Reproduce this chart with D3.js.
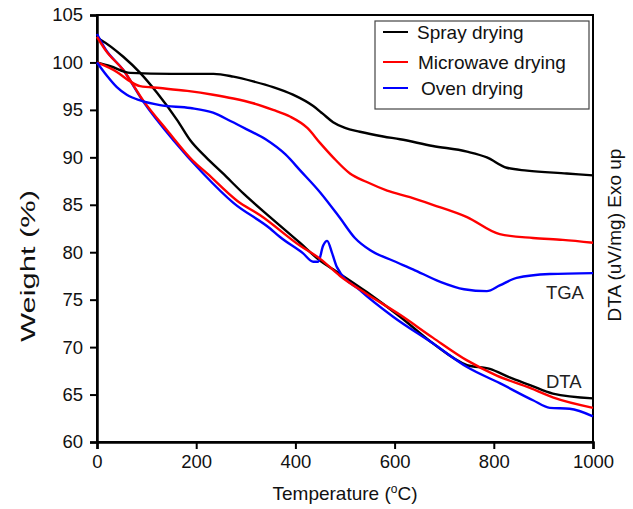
<!DOCTYPE html>
<html>
<head>
<meta charset="utf-8">
<script src="https://cdn.jsdelivr.net/npm/d3@7"></script>
<style>
  body { margin: 0; background: #fff; }
  text { font-family: "Liberation Sans", Arial, sans-serif; }
</style>
</head>
<body>
<script>
// TGA / DTA curves: [temperature, value]
const sprayTGA = [[0,100],[27,99.6],[67,98.9],[150,98.8],[235,98.8],[275,98.5],[315,98.0],[355,97.4],[395,96.6],[436,95.4],[455,94.6],[476,93.7],[500,93.1],[530,92.7],[577,92.2],[611,91.9],[677,91.2],[746,90.6],[786,90.0],[826,88.9],[867,88.6],[947,88.3],[1000,88.1]];
const microwaveTGA = [[0,100],[40,99.0],[67,98.0],[87,97.5],[127,97.3],[182,97.0],[234,96.6],[275,96.2],[315,95.7],[355,95.0],[389,94.3],[424,93.1],[450,91.5],[476,90.0],[510,88.3],[544,87.4],[585,86.5],[631,85.8],[677,85.0],[746,83.7],[812,81.9],[879,81.5],[939,81.3],[1000,81.0]];
const ovenTGA = [[0,100],[20,98.6],[40,97.4],[60,96.6],[87,96.0],[127,95.5],[188,95.2],[234,94.7],[270,93.8],[300,93.0],[340,91.9],[380,90.3],[410,88.6],[450,86.3],[490,83.6],[520,81.5],[551,80.2],[597,79.1],[637,78.2],[691,76.9],[740,76.1],[786,75.9],[812,76.5],[846,77.3],[913,77.7],[1000,77.8]];

const sprayDTA = [[0,102.6],[7,102.4],[53,100.6],[87,98.9],[121,96.8],[162,93.9],[188,91.8],[220,90.0],[254,88.3],[295,86.2],[349,83.7],[409,81.0],[450,79.1],[476,78.2],[544,75.8],[611,73.2],[677,70.4],[746,68.1],[792,67.7],[832,66.8],[873,66.0],[919,65.1],[1000,64.6]];
const microwaveDTA = [[0,102.7],[17,101.3],[53,99.2],[93,96.0],[142,92.8],[194,89.6],[222,88.3],[283,85.4],[329,83.9],[409,80.7],[450,79.3],[490,77.5],[544,75.6],[611,73.4],[677,71.0],[746,68.6],[806,67.0],[873,65.7],[919,64.7],[1000,63.6]];
const ovenDTA = [[0,103.0],[17,101.4],[53,99.2],[93,95.9],[154,91.8],[214,88.3],[275,85.2],[349,82.5],[369,81.6],[415,79.9],[436,79.0],[446,79.0],[456,80.7],[464,81.2],[474,79.9],[484,78.4],[530,76.0],[597,73.2],[677,70.4],[746,67.9],[812,66.2],[879,64.4],[913,63.6],[953,63.5],[1000,62.7]];

const seriesNames = ["Spray drying", "Microwave drying", "Oven drying"];
const seriesColors = ["#000000", "#ff0000", "#0000ff"];
const xTicks = [0, 200, 400, 600, 800, 1000];
const yTicks = [60, 65, 70, 75, 80, 85, 90, 95, 100, 105];

const W = 633, H = 509;
const margin = { top: 15, right: 40, bottom: 67, left: 97 };
const width = 593 - margin.left;
const height = 442 - margin.top;

const svg = d3.select("body").append("svg")
  .attr("width", W)
  .attr("height", H);

const g = svg.append("g")
  .attr("transform", "translate(" + margin.left + "," + margin.top + ")");

const x = d3.scaleLinear().domain([0, 1000]).range([0, width]);
const y = d3.scaleLinear().domain([60, 105]).range([height, 0]);

// frame (top and right)
g.append("rect")
  .attr("x", 0).attr("y", 0)
  .attr("width", width).attr("height", height)
  .attr("fill", "none")
  .attr("stroke", "#000")
  .attr("stroke-width", 2);

// axes
const xAxis = g.append("g")
  .attr("transform", "translate(0," + height + ")")
  .call(d3.axisBottom(x).tickValues(xTicks).tickFormat(d3.format("d")).tickSize(7).tickPadding(6));
const yAxis = g.append("g")
  .call(d3.axisLeft(y).tickValues(yTicks).tickFormat(d3.format("d")).tickSize(7).tickPadding(7));

[xAxis, yAxis].forEach(a => {
  a.select(".domain").attr("stroke", "#000").attr("stroke-width", 2.5);
  a.selectAll(".tick line").attr("stroke", "#000").attr("stroke-width", 2);
  a.selectAll(".tick text")
    .attr("fill", "#111")
    .style("font-size", "18.5px")
    .style("font-family", "'Liberation Sans', Arial, sans-serif");
});

// curves
const line = d3.line()
  .x(d => x(d[0]))
  .y(d => y(d[1]))
  .curve(d3.curveMonotoneX);

const curves = [
  [sprayDTA, 0], [ovenDTA, 2], [microwaveDTA, 1],
  [sprayTGA, 0], [microwaveTGA, 1], [ovenTGA, 2]
];
curves.forEach(c => {
  g.append("path")
    .datum(c[0])
    .attr("d", line)
    .attr("fill", "none")
    .attr("stroke", seriesColors[c[1]])
    .attr("stroke-width", 2.4)
    .attr("stroke-linejoin", "round");
});

// curve group labels
g.append("text").attr("x", x(905)).attr("y", y(77.8) + 26)
  .style("font-size", "18.5px").attr("fill", "#222").text("TGA");
g.append("text").attr("x", x(905)).attr("y", y(66) + 3)
  .style("font-size", "18.5px").attr("fill", "#222").text("DTA");

// legend
const legend = svg.append("g").attr("transform", "translate(375,21)");
legend.append("rect")
  .attr("width", 214).attr("height", 88)
  .attr("fill", "#fff")
  .attr("stroke", "#444")
  .attr("stroke-width", 1.2);
const rowsY = [11, 41, 67];
const textX = [42, 43, 46];
seriesNames.forEach((name, i) => {
  legend.append("line")
    .attr("x1", 8).attr("x2", 33)
    .attr("y1", rowsY[i]).attr("y2", rowsY[i])
    .attr("stroke", seriesColors[i]).attr("stroke-width", 2);
  legend.append("text")
    .attr("x", textX[i]).attr("y", rowsY[i] + 7)
    .style("font-size", "19px")
    .attr("fill", "#111")
    .text(name);
});

// axis titles
const xt = svg.append("text")
  .attr("x", 345).attr("y", 500)
  .attr("text-anchor", "middle")
  .style("font-size", "19px")
  .attr("fill", "#111");
xt.append("tspan").text("Temperature (");
xt.append("tspan").attr("dy", -7).style("font-size", "12px").text("o");
xt.append("tspan").attr("dy", 7).text("C)");

svg.append("text")
  .attr("transform", "translate(35,266) rotate(-90)")
  .attr("text-anchor", "middle")
  .attr("textLength", 152)
  .attr("lengthAdjust", "spacingAndGlyphs")
  .style("font-size", "20px")
  .attr("fill", "#111")
  .text("Weight (%)");

svg.append("text")
  .attr("transform", "translate(621,235) rotate(-90)")
  .attr("text-anchor", "middle")
  .style("font-size", "19px")
  .attr("fill", "#111")
  .text("DTA (uV/mg) Exo up");
</script>
</body>
</html>
